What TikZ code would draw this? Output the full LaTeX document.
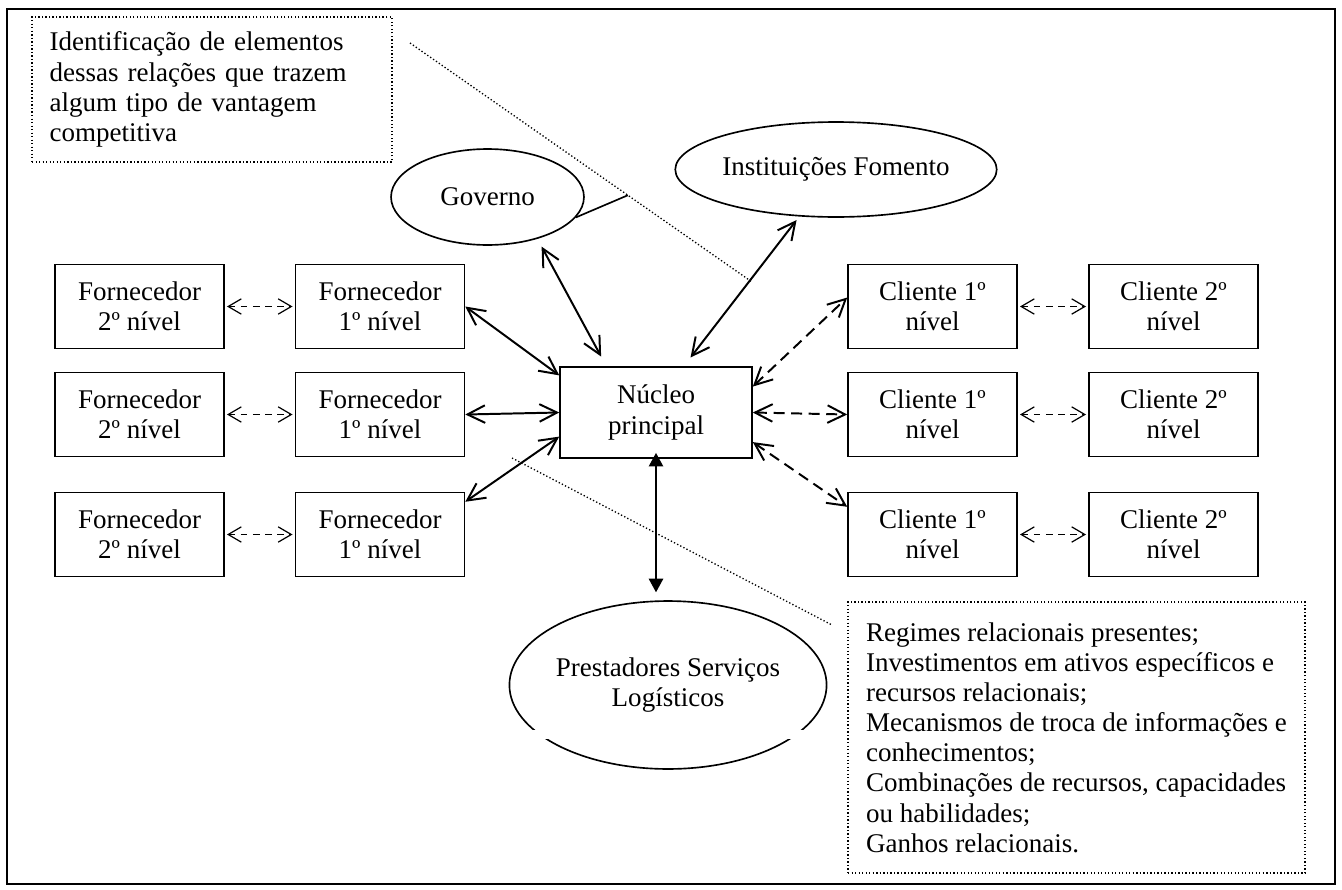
\documentclass[tikz,border=0pt]{standalone}
\usepackage{fontspec}
\setmainfont{Liberation Serif}
\usetikzlibrary{arrows.meta,shapes.geometric,calc}
\begin{document}
\begin{tikzpicture}[x=0.016cm,y=0.016cm,
	every node/.style={font=\fontsize{12.3pt}{13.75pt}\selectfont},
	box/.style={rectangle,draw,line width=0.75pt,minimum width=2.704cm,minimum height=1.344cm,inner sep=0pt,align=center},
	oval/.style={ellipse,draw,line width=0.75pt,inner sep=0pt,align=center},
	obs/.style={rectangle,draw,densely dotted,line width=0.6pt,inner sep=0pt,align=left},
	solidarr/.style={line width=0.9pt,{Straight Barb[length=8pt,width=8pt]}-{Straight Barb[length=8pt,width=8pt]}},
	dasharr/.style={solidarr,dash pattern=on 5pt off 3pt},
	smallarr/.style={line width=0.55pt,dash pattern=on 3pt off 2.5pt,shorten <=1pt,shorten >=1pt,{Straight Barb[length=6pt,width=7pt]}-{Straight Barb[length=6pt,width=7pt]}},
	fullarr/.style={line width=0.9pt,{Triangle[length=6.2pt,width=6.5pt]}-{Triangle[length=6.2pt,width=6.5pt]}}]
	\useasboundingbox (0,-889) rectangle (1342,0);
	\draw [line width=1pt] (7,-9) rectangle (1335,-884);

	\node at (212,-89.5) [obs,minimum width=5.76cm,minimum height=2.32cm,text width=5.2cm] (obs1) {Identificação de elementos\\dessas relações que trazem\\algum tipo de vantagem\\competitiva};
	\node at (1076.5,-737.5) [obs,minimum width=7.312cm,minimum height=4.336cm] (obs2) {Regimes relacionais presentes;\\Investimentos em ativos específicos e\\recursos relacionais;\\Mecanismos de troca de informações e\\conhecimentos;\\Combinações de recursos, capacidades\\ou habilidades;\\Ganhos relacionais.};

        \node at (487.5,-197) [oval,minimum width=3.088cm,minimum height=1.536cm] (gov) {Governo};
        \node at (836,-169.5) [oval,minimum width=4.992cm,minimum height=1.52cm] (inst) {Instituições Fomento};
        \node at (668,-685) [oval,minimum width=4.992cm,minimum height=2.688cm] (prest) {Prestadores Serviços\\Logísticos};
	\fill [white] (500,-730) rectangle (840,-739);

        \node at (656,-412.5) [box,minimum width=3.072cm,minimum height=1.456cm] (nuc) {Núcleo\\principal};

        \node at (139.5,-306.5) [box] (f2a) {Fornecedor\\2º nível};
        \node at (139.5,-414.5) [box] (f2b) {Fornecedor\\2º nível};
        \node at (139.5,-534.5) [box] (f2c) {Fornecedor\\2º nível};
        \node at (380,-306.5) [box] (f1a) {Fornecedor\\1º nível};
        \node at (380,-414.5) [box] (f1b) {Fornecedor\\1º nível};
        \node at (380,-534.5) [box] (f1c) {Fornecedor\\1º nível};

        \node at (932.5,-306.5) [box] (c1a) {Cliente 1º\\nível};
        \node at (932.5,-414.5) [box] (c1b) {Cliente 1º\\nível};
        \node at (932.5,-534.5) [box] (c1c) {Cliente 1º\\nível};
        \node at (1173.5,-306.5) [box] (c2a) {Cliente 2º\\nível};
        \node at (1173.5,-414.5) [box] (c2b) {Cliente 2º\\nível};
        \node at (1173.5,-534.5) [box] (c2c) {Cliente 2º\\nível};

	\coordinate (la1) at (410,-43);
	\coordinate (la2) at (752,-282);
	\coordinate (lb1) at (512,-458);
	\coordinate (lb2) at (832,-625);

	\draw [densely dotted,line width=0.6pt] (la1) -- (la2);
	\draw [densely dotted,line width=0.6pt] (lb1) -- (lb2);
	\draw [line width=0.75pt] (gov.-13) -- ($(la1)!0.637!(la2)$);

     \draw [smallarr] (f2a) -- (f1a);
     \draw [smallarr] (f2b) -- (f1b);
     \draw [smallarr] (f2c) -- (f1c);
     \draw [smallarr] (c1a) -- (c2a);
     \draw [smallarr] (c1b) -- (c2b);
     \draw [smallarr] (c1c) -- (c2c);

     \draw [solidarr] (f1a.east) -- (nuc.159);
     \draw [solidarr] (f1b.east) -- (nuc.west);
     \draw [solidarr] (f1c.21) -- (nuc.194);
     \draw [solidarr, shorten <=4pt, shorten >=5pt] (gov.-40) -- (nuc.137);
     \draw [solidarr, shorten <=2pt, shorten >=5pt] (inst.232) -- (nuc.59);

     \draw [dasharr] (nuc.15) -- (c1a.174);
     \draw [dasharr] (nuc.east) -- (c1b.west);
     \draw [dasharr] (nuc.-17) -- (c1c.162);

     \draw [fullarr, shorten <=-2.7pt, shorten >=3.6pt] (nuc.south) -- (nuc.south |- prest.north);
    \end{tikzpicture}
\end{document}
